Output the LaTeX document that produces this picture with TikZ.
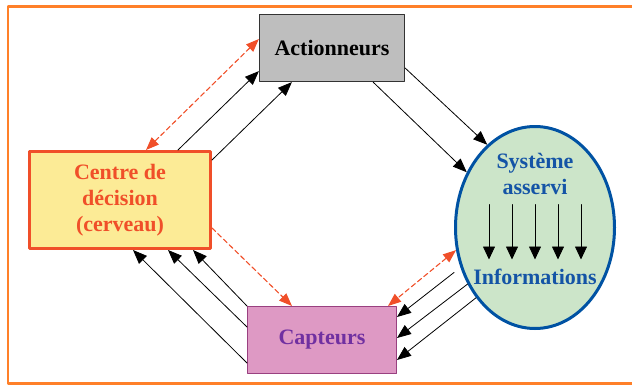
\documentclass[tikz,border=0pt]{standalone}
\usepackage{fontspec}
\setmainfont{Liberation Serif}
\usepackage{tikz}
\usetikzlibrary{arrows.meta,calc,shapes.geometric}
\definecolor{ffyqsy}{rgb}{1,0.5,0.16}
\definecolor{fqvqsy}{rgb}{0.94,0.31,0.16}
\definecolor{fdeazw}{rgb}{0.99,0.92,0.59}
\definecolor{bebebe}{rgb}{0.745,0.745,0.745}
\definecolor{tttttt}{rgb}{0.2,0.2,0.2}
\definecolor{dezzcu}{rgb}{0.87,0.6,0.77}
\definecolor{zzuqyq}{rgb}{0.6,0.25,0.5}
\definecolor{xqtqaq}{rgb}{0.44,0.19,0.63}
\definecolor{ccewca}{rgb}{0.8,0.9,0.79}
\definecolor{qqvsat}{rgb}{0,0.32,0.64}
\definecolor{ruuuaw}{rgb}{0.08,0.33,0.65}

\begin{document}
\begin{tikzpicture}[line cap=round,line join=round,>={Triangle[length=14pt,width=11pt]},
  x=1pt,y=-1pt,
  bold/.style={font=\fontsize{22}{26}\selectfont\bfseries,align=center},
  actbox/.style={bold,draw=tttttt,line width=1.2pt,fill=bebebe,minimum width=145pt,minimum height=67pt},
  centrebox/.style={bold,text=fqvqsy,draw=fqvqsy,line width=3pt,fill=fdeazw,minimum width=181pt,minimum height=97pt},
  capbox/.style={bold,text=xqtqaq,draw=zzuqyq,line width=1pt,fill=dezzcu,minimum width=149pt,minimum height=67pt},
  sysellipse/.style={ellipse,draw=qqvsat,line width=3pt,fill=ccewca,inner sep=0pt,minimum width=159pt,minimum height=202pt},
  systext/.style={bold,text=ruuuaw},
  flow/.style={->,line width=0.8pt},
  link/.style={line width=1.1pt,color=fqvqsy,dash pattern=on 5pt off 3pt}]
  \useasboundingbox (0,0) rectangle (632,385);
  \draw [color=ffyqsy,line width=2.5pt,line cap=butt] (640,6.5) -- (8,6.5) -- (8,383.5) -- (640,383.5);
  % blocs
  \node [actbox] (act) at (332,48) {Actionneurs};
  \node [centrebox] (centre) at (120,200) {Centre de\\d\'ecision\\(cerveau)};
  \node [capbox] (cap) at (322,340) {Capteurs};
  \node [sysellipse] (sys) at (535,227.5) {};
  \node [systext] (sysname) at (535,174) {Syst\`eme\\asservi};
  \node [systext] (info) at (535,277) {Informations};
  \foreach \i in {-2,...,2} \draw [flow,>={Triangle[length=13pt,width=12pt]}]
    ($(sys.center)+(\i*23,-23)$) -- ($(sys.center)+(\i*23,32)$);
  % commandes
  \draw [flow] ($(centre.north west)+(150,0)$) -- ($(act.south west)+(0,-11)$);
  \draw [flow] ($(centre.north east)+(0,10)$) -- ($(act.south west)+(33,0)$);
  \draw [flow] ($(act.east)+(0,20)$) -- (sys.120);
  \draw [flow] ($(act.south east)+(-32,0)$) -- (sys.141);
  % mesures
  \draw [flow] ($(sys.west)+(0,45)$) -- ($(cap.east)+(0,-23)$);
  \draw [flow] (sys.220) -- ($(cap.east)+(0,-2)$);
  \draw [flow] (sys.230) -- ($(cap.east)+(0,20)$);
  \draw [flow] (cap.north west) -- ($(centre.south east)+(-19,0)$);
  \draw [flow] ($(cap.north west)+(0,21)$) -- ($(centre.south east)+(-44,0)$);
  \draw [flow] ($(cap.south west)+(0,-11)$) -- ($(centre.south east)+(-79,0)$);
  % liaisons
  \draw [link,<->,>={Triangle[length=13pt,width=10pt]}] ($(centre.north west)+(118,0)$) -- ($(act.west)+(0,-9)$);
  \draw [link,->,>={Triangle[length=13pt,width=10pt]}] ($(centre.east)+(0,28)$) -- ($(cap.north west)+(45,0)$);
  \draw [link,<->,>={Triangle[length=13pt,width=10pt]}] (sys.196) -- ($(cap.north east)+(-9,0)$);
\end{tikzpicture}
\end{document}
